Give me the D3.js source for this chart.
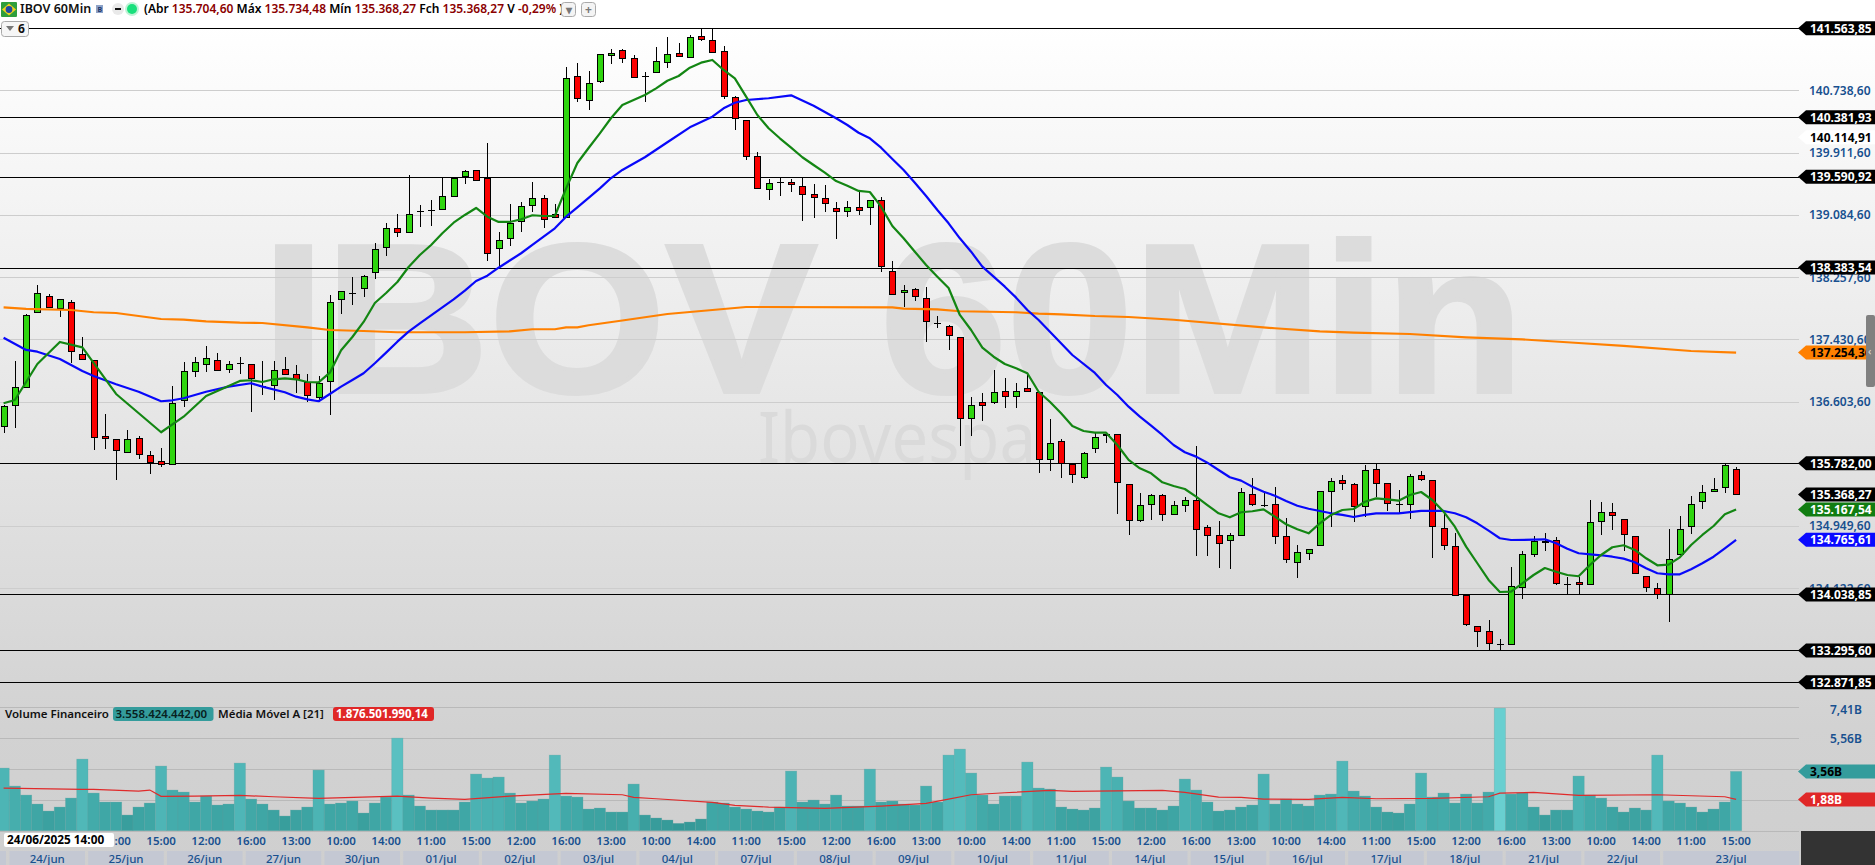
<!DOCTYPE html>
<html lang="pt-BR">
<head>
<meta charset="utf-8">
<script src="https://cdn.jsdelivr.net/npm/d3@7/dist/d3.min.js"></script>
<style>
html,body{margin:0;padding:0;background:#fff;overflow:hidden}
svg{display:block}
text{font-family:"Noto Sans",sans-serif}
</style>
</head>
<body>
<svg id="chart" width="1875" height="865"></svg>
<script>
// ---------- data ----------
const opens=[136278,136558,136793,137790,138010,137847,137922,137231,137152,136146,136102,135929,136115,135889,135809,135773,136620,137005,137098,137152,137036,137112,137098,136814,136819,137032,136966,136863,136668,136877,137962,138050,138112,138329,138653,138906,138853,139140,139145,139158,139331,139597,139677,139570,138640,138773,138999,139212,139305,139092,139060,140926,140607,140860,141209,141272,141165,140934,140979,141112,141232,141178,141458,141404,141258,140647,140341,139863,139424,139521,139517,139472,139358,139305,139172,139132,139193,139185,139286,138334,138055,138095,137984,137651,137611,137457,136381,136593,136593,136740,136681,136779,136726,135836,136075,135769,135605,135982,136172,136168,135504,135025,135238,135358,135105,135225,135291,134932,134826,134759,134826,135371,135233,135238,134813,134467,134587,134693,135411,135557,135504,135211,135703,135517,135238,135238,135623,135557,134919,134680,134029,133616,133550,133377,133377,134135,134573,134733,134759,134179,134201,134175,135012,135132,135039,134813,134281,134122,134042,134573,134945,135278,135411,135464,135704.6];
const highs=[136558,137142,137767,138152,138033,137966,137953,137461,137152,136438,136106,136225,136146,135942,135986,136810,137129,137191,137342,137245,137142,137191,137098,137142,137142,137191,137089,136970,136943,138015,138072,138255,138285,138711,138972,139096,139614,139216,139282,139592,139592,139681,139677,140036,138857,139229,139255,139521,139344,139229,141046,141103,140996,141218,141285,141285,141209,140979,141315,141448,141369,141475,141555,141555,141329,140660,140341,139920,139561,139592,139561,139592,139495,139481,139255,139265,139392,139286,139318,138471,138152,138108,138126,137740,137625,137457,136660,136717,137023,136916,136850,136979,136726,136371,136102,135787,135929,136181,136189,136168,135504,135388,135371,135371,135282,135331,136013,134959,135012,134853,135450,135587,135384,135468,135052,134693,134640,135411,135587,135627,135517,135756,135783,135517,135428,135640,135680,135557,135145,134853,134029,133616,133696,133444,134404,134613,134813,134853,134799,134272,134268,135291,135268,135255,135039,134813,134281,134192,134906,135078,135344,135490,135583,135773,135734.48];
const lows=[136181,136256,136793,137784,137856,137731,137112,137165,135960,135973,135561,135929,135844,135645,135738,135756,136535,136934,136998,137009,136987,136970,136469,136694,136624,136952,136721,136601,136601,136429,137771,137890,137997,138236,138542,138794,138847,138927,138936,139158,139331,139495,139544,138475,138396,138675,138861,139127,138914,139043,139052,140580,140482,140833,141093,141107,140921,140588,140979,141040,141192,141178,141399,141240,140628,140212,139810,139437,139282,139335,139388,139003,139043,139122,138764,139060,139083,138954,138329,138015,137856,137944,137399,137585,137289,136017,136150,136349,136575,136522,136522,136740,135658,135684,135591,135525,135578,135924,136057,135113,134834,134999,135033,135020,135105,135135,134555,134555,134395,134382,134826,135215,135206,134710,134462,134262,134498,134693,134940,135428,135006,135065,135331,135153,135118,135046,135543,134528,134631,134029,133620,133345,133297,133297,133364,133983,134533,134613,134161,134042,134042,134175,134830,134896,134617,134321,134072,133979,133674,134573,134843,135179,135411,135392,135368.27];
const closes=[136544,136801,137750,138050,137856,137962,137271,137165,136128,136115,135955,136102,135902,135796,135769,136580,137005,137125,137178,137019,137106,137112,136912,136814,137019,136974,136899,136686,136854,137922,138068,138050,138268,138627,138906,138853,139092,139140,139145,139331,139570,139663,139544,138574,138746,138972,139198,139305,139026,139052,140899,140634,140833,141218,141232,141173,140921,140934,141133,141218,141192,141444,141426,141253,140668,140368,139863,139437,139504,139521,139491,139358,139318,139238,139132,139193,139145,139286,138401,138029,138082,138002,137670,137651,137484,136381,136554,136562,136726,136681,136740,136740,135836,136049,135783,135637,135916,136128,136155,135530,135025,135225,135358,135105,135225,135291,134906,134826,134720,134826,135397,135238,135233,134813,134507,134600,134640,135411,135543,135517,135211,135690,135517,135251,135238,135610,135570,134945,134693,134029,133643,133550,133390,133377,134148,134573,134746,134754,134188,134179,134175,134999,135132,135092,134839,134321,134135,134042,134507,134906,135238,135397,135437,135756,135368.27];
const volumeB=[3.76,2.68,2.14,1.6,1.18,1.42,1.96,4.3,2.26,1.72,1.72,0.94,1.42,1.66,3.88,2.44,2.32,1.72,2.08,1.54,1.6,4.06,1.9,1.6,1.24,0.88,1.24,1.42,3.64,1.6,1.66,1.78,1.06,1.66,2.02,5.56,2.14,1.48,1.24,1.24,1.24,1.72,3.4,3.16,3.22,2.26,1.66,1.78,1.9,4.54,2.08,2.02,1.3,1.36,1.12,1.12,2.8,0.94,0.76,0.64,0.44,0.52,0.7,1.72,1.66,1.42,1.3,1.18,1.12,1.42,3.58,1.72,1.84,1.6,2.14,1.48,1.48,3.7,1.72,1.78,1.6,1.54,2.68,1.72,4.54,4.9,3.46,2.14,1.6,2.08,2.08,4.12,2.56,2.5,1.42,1.3,1.24,1.36,3.82,3.22,1.78,1.36,1.36,1.24,1.48,3.1,2.44,1.72,1.18,1.24,1.42,1.54,3.4,1.6,1.9,1.6,1.48,2.14,2.2,4.18,2.38,2.08,1.42,1.12,1.06,1.6,3.46,2.02,2.26,1.66,2.2,1.66,2.32,7.36,2.2,2.26,1.42,0.94,1.24,1.24,3.28,2.14,1.96,1.42,1.12,1.36,1.24,4.54,1.78,1.66,1.42,1.12,1.3,1.72,3.558];
// moving averages: [candle index, value]
const greenMA=[[0,136580],[1,136624],[3,137102],[5,137395],[7,137324],[10,136704],[14,136195],[16,136402],[18,136677],[21,136877],[22,136886],[23,136863],[24,136899],[25,136912],[26,136899],[27,136863],[28,136859],[29,136987],[30,137284],[31,137461],[32,137661],[33,137913],[34,138046],[35,138192],[36,138391],[37,138551],[38,138684],[39,138839],[40,138980],[41,139083],[42,139176],[43,139060],[44,138990],[45,138990],[46,139026],[47,139079],[48,139069],[49,139069],[50,139437],[51,139774],[52,139973],[53,140168],[54,140372],[55,140545],[56,140611],[57,140677],[58,140766],[59,140867],[60,140930],[61,141040],[62,141107],[63,141143],[64,141010],[65,140899],[66,140655],[67,140412],[68,140235],[69,140102],[70,139977],[71,139850],[72,139747],[73,139645],[74,139534],[75,139472],[76,139402],[77,139388],[78,139193],[79,138936],[80,138773],[81,138595],[82,138418],[83,138263],[84,138112],[85,137754],[86,137554],[87,137319],[88,137199],[89,137102],[90,137045],[91,136979],[92,136734],[93,136601],[94,136447],[95,136278],[96,136212],[97,136189],[98,136189],[99,136026],[100,135827],[101,135716],[102,135650],[103,135530],[104,135481],[105,135441],[106,135339],[107,135228],[108,135118],[109,135065],[110,135132],[111,135145],[112,135171],[113,135073],[114,134972],[115,134906],[116,134852],[117,134985],[118,135096],[119,135162],[120,135175],[121,135272],[122,135317],[123,135304],[124,135286],[125,135361],[126,135401],[127,135295],[128,135140],[129,134940],[130,134675],[131,134454],[132,134232],[133,134072],[134,134076],[135,134188],[136,134298],[137,134391],[138,134342],[139,134298],[140,134281],[141,134431],[142,134564],[143,134667],[144,134693],[145,134631],[146,134520],[147,134427],[148,134435],[149,134533],[150,134697],[151,134830],[152,134949],[153,135105],[154,135167.54]];
const blueMA=[[0,137452],[2,137289],[3,137266],[5,137169],[7,137009],[8,136943],[10,136833],[12,136734],[14,136607],[15,136620],[16,136647],[18,136734],[20,136801],[22,136846],[23,136801],[25,136726],[26,136668],[27,136633],[28,136607],[29,136704],[30,136801],[31,136890],[32,136979],[33,137112],[34,137253],[35,137399],[36,137532],[37,137643],[39,137856],[40,137960],[41,138077],[42,138205],[43,138276],[44,138382],[46,138574],[47,138684],[49,138906],[50,139060],[51,139185],[53,139437],[54,139574],[55,139681],[57,139850],[59,140049],[61,140248],[63,140389],[64,140501],[65,140575],[66,140611],[68,140634],[70,140673],[72,140535],[74,140368],[75,140279],[76,140176],[77,140102],[78,139977],[79,139827],[80,139681],[81,139512],[82,139335],[83,139149],[84,138972],[85,138773],[86,138595],[87,138396],[88,138263],[89,138130],[90,137984],[91,137820],[92,137687],[95,137222],[97,136983],[98,136823],[99,136690],[100,136535],[101,136402],[102,136282],[103,136159],[104,136026],[105,135929],[106,135871],[107,135791],[108,135694],[109,135597],[110,135552],[111,135472],[112,135405],[113,135352],[114,135282],[115,135219],[116,135179],[117,135149],[118,135118],[119,135096],[120,135069],[121,135096],[122,135118],[124,135118],[126,135149],[128,135149],[129,135118],[130,135065],[131,134985],[132,134887],[133,134786],[134,134763],[136,134767],[137,134772],[138,134719],[139,134648],[140,134587],[142,134560],[143,134541],[144,134515],[145,134467],[146,134387],[147,134321],[148,134307],[149,134307],[150,134374],[151,134454],[152,134541],[153,134653],[154,134765.61]];
const orangeMA=[[0,137856],[2,137834],[6,137820],[8,137790],[10,137780],[14,137700],[16,137691],[18,137670],[21,137651],[23,137647],[27,137590],[29,137554],[32,137541],[35,137524],[41,137524],[45,137537],[47,137564],[49,137564],[50,137590],[51,137590],[52,137617],[55,137680],[59,137767],[63,137820],[66,137860],[79,137856],[80,137837],[83,137829],[85,137803],[90,137790],[92,137771],[94,137763],[97,137740],[100,137727],[104,137690],[113,137577],[117,137537],[120,137518],[125,137501],[130,137457],[135,137429],[140,137381],[144,137342],[150,137275],[154,137254.36]];
const volumeMA=[[0,2.56],[7,2.48],[8,2.48],[12,2.38],[13,2.44],[14,2.06],[17,2.08],[21,2.12],[24,2.04],[28,1.94],[35,2.08],[38,1.96],[41,1.88],[45,2.08],[50,2.24],[55,2.16],[56,2.0],[58,1.92],[63,1.7],[65,1.52],[68,1.42],[73,1.34],[78,1.48],[82,1.64],[84,1.9],[86,2.16],[89,2.28],[93,2.42],[95,2.36],[103,2.42],[105,2.3],[108,2.02],[110,2.0],[112,1.9],[116,1.88],[119,2.0],[122,1.92],[127,1.94],[132,2.04],[133,2.26],[136,2.3],[140,2.12],[147,2.16],[153,2.04],[154,1.8765]];
const priceTicks=[140738.6,139911.6,139084.6,138257.6,137430.6,136603.6,134949.6,134122.6];
const levels=[141563.85,140381.93,139590.92,138383.54,135782,134038.85,133295.6,132871.85];
const timeTicks=["10:00","14:00","11:00","15:00","12:00","16:00","13:00"];
const dayLabels=["24/jun","25/jun","26/jun","27/jun","30/jun","01/jul","02/jul","03/jul","04/jul","07/jul","08/jul","09/jul","10/jul","11/jul","14/jul","15/jul","16/jul","17/jul","18/jul","21/jul","22/jul","23/jul"];
const volTicks=[7.41,5.56];
const volGrid=[7.41,5.56,3.705,1.853,0];
const headerParts=[["(Abr ","#000"],["135.704,60 ","#8b0000"],["Máx ","#000"],["135.734,48 ","#8b0000"],["Mín ","#000"],["135.368,27 ","#8b0000"],["Fch ","#000"],["135.368,27 ","#8b0000"],["V ","#000"],["-0,29% ","#8b0000"],[")","#000"]];

// ---------- scales ----------
const W=1875,H=865,plotR=1799;
const x=d3.scaleLinear().domain([0,154]).range([3.6,1736.1]);
const y=d3.scaleLinear().domain([132871.85,141563.85]).range([682.3,28.3]);
const yV=d3.scaleLinear().domain([0,7.41]).range([830.7,707.3]);
const pitch=x(1)-x(0);
const fmt=d3.formatLocale({decimal:",",thousands:".",grouping:[3],currency:["",""]}).format(",.2f");
const svg=d3.select("#chart");
const defs=svg.append("defs");
const g=defs.append("linearGradient").attr("id","bg").attr("x1",0).attr("x2",0).attr("y1",0).attr("y2",1);
g.append("stop").attr("offset","3%").attr("stop-color","#ffffff");
g.append("stop").attr("offset","84%").attr("stop-color","#d2d2d2");
g.append("stop").attr("offset","100%").attr("stop-color","#cfcfcf");
svg.append("rect").attr("width",W).attr("height",H).attr("fill","url(#bg)");

// ---------- watermark ----------
svg.append("text").text("IBOV 60Min").attr("x",262).attr("y",392)
 .attr("font-size",211).attr("font-weight",700).attr("fill","#dcdcdc")
 .attr("stroke","#dcdcdc").attr("stroke-width",4)
 .attr("textLength",1262).attr("lengthAdjust","spacingAndGlyphs")
 .style("font-family","'Liberation Sans',sans-serif");
svg.append("text").text("Ibovespa").attr("x",758).attr("y",463)
 .attr("font-size",71).attr("font-weight",400).attr("fill","#dadada")
 .attr("textLength",278).attr("lengthAdjust","spacingAndGlyphs");

// ---------- gridlines, levels ----------
svg.append("g").selectAll("line").data(priceTicks).join("line")
 .attr("x1",0).attr("x2",plotR).attr("y1",d=>Math.round(y(d))+.5).attr("y2",d=>Math.round(y(d))+.5)
 .attr("stroke","#cdcdcd").attr("stroke-width",1);
svg.append("g").selectAll("line").data(volGrid).join("line")
 .attr("x1",0).attr("x2",plotR).attr("y1",d=>Math.round(yV(d))+.5).attr("y2",d=>Math.round(yV(d))+.5)
 .attr("stroke","#b9b9b9").attr("stroke-width",1);
svg.append("g").selectAll("line").data(levels).join("line")
 .attr("x1",0).attr("x2",plotR).attr("y1",d=>Math.round(y(d))+.5).attr("y2",d=>Math.round(y(d))+.5)
 .attr("stroke","#000").attr("stroke-width",1);

// ---------- volume ----------
const volColor=d3.scaleLinear().domain([0.4,1.5,3,5,7.4]).range(["#349896","#3ea5a4","#48b0b0","#55bcbd","#69cfd0"]);
svg.append("g").selectAll("rect").data(volumeB).join("rect")
 .attr("x",(d,i)=>x(i)-pitch/2).attr("width",pitch)
 .attr("y",d=>yV(d)).attr("height",d=>yV(0)-yV(d))
 .attr("fill",d=>volColor(d)).attr("stroke","#5d9f9f").attr("stroke-opacity",.45).attr("stroke-width",.6);
const volLine=d3.line().x(d=>x(d[0])).y(d=>yV(d[1]));
svg.append("path").datum(volumeMA).attr("fill","none").attr("stroke","#e02a2a").attr("stroke-width",1.2).attr("d",volLine);

const priceLine=d3.line().x(d=>x(d[0])).y(d=>y(d[1]));

// ---------- candles ----------
const cd=opens.map((o,i)=>({i,o,h:highs[i],l:lows[i],c:closes[i]}));
const cg=svg.append("g");
const px=d=>Math.round(x(d.i));
cg.selectAll(".wick").data(cd).join("line").attr("class","wick")
 .attr("x1",d=>px(d)+.5).attr("x2",d=>px(d)+.5)
 .attr("y1",d=>Math.round(y(d.h))).attr("y2",d=>Math.round(y(d.l)))
 .attr("stroke","#000").attr("stroke-width",1);
cg.selectAll(".body").data(cd.filter(d=>d.o!==d.c)).join("rect").attr("class","body")
 .attr("x",d=>px(d)-3+.5).attr("width",6)
 .attr("y",d=>Math.round(y(Math.max(d.o,d.c)))+.5)
 .attr("height",d=>Math.max(1,Math.round(y(Math.min(d.o,d.c)))-Math.round(y(Math.max(d.o,d.c)))))
 .attr("fill",d=>d.c>d.o?"#2fd50f":"#fa0000").attr("stroke","#000").attr("stroke-width",1);
cg.selectAll(".doji").data(cd.filter(d=>d.o===d.c)).join("line").attr("class","doji")
 .attr("x1",d=>px(d)-3).attr("x2",d=>px(d)+4)
 .attr("y1",d=>Math.round(y(d.o))+.5).attr("y2",d=>Math.round(y(d.o))+.5)
 .attr("stroke","#000").attr("stroke-width",1);

const maLayer=svg.append("g").attr("fill","none").attr("stroke-linejoin","round").attr("stroke-width",2.2);
maLayer.append("path").datum(orangeMA).attr("stroke","#ff8000").attr("d",priceLine);
maLayer.append("path").datum(blueMA).attr("stroke","#0808fa").attr("d",priceLine);
maLayer.append("path").datum(greenMA).attr("stroke","#138613").attr("d",priceLine);

// ---------- right axis ----------
const blueTxt="#18508f";
svg.append("g").selectAll("text").data(priceTicks).join("text")
 .attr("x",1809).attr("y",d=>y(d)+4.5).text(fmt).attr("font-size",12).attr("font-weight",600).attr("fill",blueTxt);
function tag(val,fill,txtFill,label,yy){
 const c=yy===undefined?y(val):yy, xa=1798,xb=1806;
 svg.append("path").attr("d",`M${xa},${c} L${xb},${c-7} H${W} V${c+7} H${xb} Z`).attr("fill",fill);
 svg.append("text").attr("x",1810).attr("y",c+4.5).text(label).attr("font-size",12).attr("font-weight",700).attr("fill",txtFill);
}
levels.forEach(v=>tag(v,"#000","#fff",fmt(v)));
tag(140114.91,"#fff","#000",fmt(140114.91));
tag(135368.27,"#000","#fff",fmt(135368.27));
tag(135167.54,"#117d11","#fff",fmt(135167.54));
tag(134765.61,"#0a0aff","#fff",fmt(134765.61));
tag(137254.36,"#ff8000","#000",fmt(137254.36));
// scroll handle
svg.append("rect").attr("x",1866).attr("y",315).attr("width",9).attr("height",72).attr("rx",2).attr("fill","#808080");
svg.append("text").attr("x",1868).attr("y",355).text("‹").attr("font-size",11).attr("fill","#ddd");

// volume axis
svg.append("g").selectAll("text").data(volTicks).join("text")
 .attr("x",1830).attr("y",d=>yV(d)+(d===7.41?7:5)).text(d=>String(d).replace(".",",")+"B")
 .attr("font-size",12).attr("font-weight",600).attr("fill",blueTxt);
tag(3.558,"#349c9c","#000","3,56B",yV(3.558));
tag(1.8765,"#e02727","#fff","1,88B",yV(1.8765));

// bottom-right corner
svg.append("rect").attr("x",1801).attr("y",831).attr("width",74).attr("height",34).attr("fill","#333");

// ---------- time axis (first two labels lie wholly under the date box in the reference) ----------
const ticks=d3.range(10,155,4);
svg.append("g").selectAll("text").data(ticks).join("text")
 .attr("x",i=>x(i)).attr("y",844.5).attr("text-anchor","middle")
 .text(i=>timeTicks[(i-2)/4%7]).attr("font-size",11.5).attr("font-weight",600).attr("fill",blueTxt);
svg.append("rect").attr("x",0).attr("y",851).attr("width",6).attr("height",14).attr("fill","#c4c8d3");
const dayG=svg.append("g").selectAll("g").data(dayLabels).join("g");
const dayX0=(d,k)=>x(7*k)+5.9, dayX1=(d,k)=>k===21?plotR:x(7*k)+81.4;
dayG.append("rect").attr("x",dayX0).attr("y",851).attr("width",(d,k)=>dayX1(d,k)-dayX0(d,k)).attr("height",14).attr("fill","#c4c8d3");
dayG.append("text").attr("x",(d,k)=>(dayX0(d,k)+dayX1(d,k))/2).attr("y",862.5).attr("text-anchor","middle")
 .text(d=>d).attr("font-size",11.5).attr("font-weight",500).attr("fill",blueTxt);
// crosshair date
svg.append("rect").attr("x",4).attr("y",833).attr("width",110).attr("height",14).attr("rx",2).attr("fill","#fff");
svg.append("text").attr("x",7).attr("y",844.3).text("24/06/2025 14:00").attr("font-size",11.8).attr("font-weight",700).attr("fill","#000");

// ---------- volume legend ----------
const lt=718;
svg.append("text").attr("x",5).attr("y",lt).text("Volume Financeiro").attr("font-size",11.5).attr("font-weight",600).attr("fill","#111");
svg.append("rect").attr("x",113).attr("y",707).attr("width",100.5).attr("height",14).attr("rx",3).attr("fill","#349c9c");
svg.append("text").attr("x",115.5).attr("y",lt).text("3.558.424.442,00").attr("font-size",11.5).attr("font-weight",600).attr("fill","#082020");
svg.append("text").attr("x",218).attr("y",lt).text("Média Móvel A [21]").attr("font-size",11.5).attr("font-weight",600).attr("fill","#111");
svg.append("rect").attr("x",333).attr("y",707).attr("width",101).attr("height",14).attr("rx",3).attr("fill","#e02727");
svg.append("text").attr("x",336).attr("y",lt).text("1.876.501.990,14").attr("font-size",11.5).attr("font-weight",700).attr("fill","#fff");

// ---------- header ----------
const flag=svg.append("g");
flag.append("rect").attr("x",1).attr("y",2).attr("width",16).attr("height",15).attr("rx",1).attr("fill","#2f9e3c");
flag.append("path").attr("d","M2,9.5 L9,3.5 L16,9.5 L9,15.5 Z").attr("fill","#f2d21c");
flag.append("circle").attr("cx",9).attr("cy",9.5).attr("r",3.4).attr("fill","#1f4aa0");
svg.append("text").attr("x",20).attr("y",13.3).text("IBOV 60Min").attr("font-size",12.5).attr("font-weight",600).attr("fill","#111");
svg.append("rect").attr("x",96).attr("y",5).attr("width",7).attr("height",8).attr("fill","#8ea3c8");
svg.append("text").attr("x",97.5).attr("y",12).text("B").attr("font-size",7).attr("font-weight",700).attr("fill","#1d3768");
svg.append("circle").attr("cx",118).attr("cy",9).attr("r",6).attr("fill","#e9e9e9");
svg.append("rect").attr("x",115).attr("y",8).attr("width",6).attr("height",2).attr("fill","#111");
svg.append("circle").attr("cx",132).attr("cy",9).attr("r",7).attr("fill","#bff3d6");
svg.append("circle").attr("cx",132).attr("cy",9).attr("r",5).attr("fill","#19e07c");
const ht=svg.append("text").attr("x",144).attr("y",13.3).attr("font-size",12).attr("font-weight",600).attr("xml:space","preserve");
headerParts.forEach(p=>ht.append("tspan").text(p[0]).attr("fill",p[1]));
[[561,"▾"],[581,"+"]].forEach(b=>{
 svg.append("rect").attr("x",b[0]+.5).attr("y",2.5).attr("width",14).attr("height",14).attr("rx",3).attr("fill","#f4f4f4").attr("stroke","#a9a9a9");
 svg.append("text").attr("x",b[0]+7.5).attr("y",13.5).attr("text-anchor","middle").text(b[1]).attr("font-size",12).attr("font-weight",700).attr("fill","#777");
});
svg.append("rect").attr("x",1.5).attr("y",21.5).attr("width",27).attr("height",15).attr("rx",3).attr("fill","#f6f6f6").attr("stroke","#a9a9a9");
svg.append("path").attr("d","M6,26 h8 l-4,5 Z").attr("fill","#777");
svg.append("text").attr("x",18).attr("y",33.3).text("6").attr("font-size",12).attr("font-weight",700).attr("fill","#111");
</script>
</body>
</html>
